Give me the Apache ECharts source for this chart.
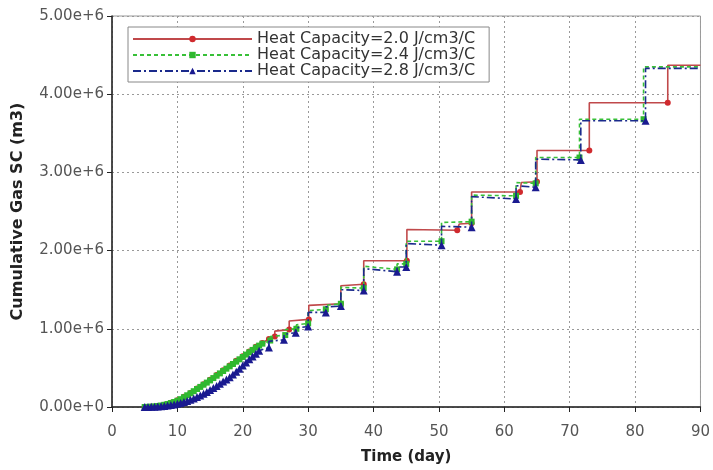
<!DOCTYPE html>
<html><head><meta charset="utf-8">
<script src="https://cdn.jsdelivr.net/npm/echarts@6/dist/echarts.min.js"></script>
<style>html,body{margin:0;padding:0;background:#fff}#c{width:713px;height:470px}</style>
</head><body><div id="c"></div>
<script>
// Series names
const seriesNames = ['Heat Capacity=2.0 J/cm3/C','Heat Capacity=2.4 J/cm3/C','Heat Capacity=2.8 J/cm3/C'];
// [time (day), cumulative gas (millions m3)]
const hc20 = [[5,0],[6,0.004],[7,0.012],[8,0.03],[9,0.055],[10,0.085],[11,0.13],[12,0.18],[13,0.235],[14,0.29],[15,0.35],[16,0.41],[17,0.47],[18,0.53],[19,0.59],[20,0.65],[21,0.71],[22,0.77],[23,0.82],[24,0.87],
  [24.9,0.90],[24.9,0.97],[27.1,0.99],[27.1,1.10],[30.1,1.12],[30.1,1.30],[35,1.32],[35,1.55],[38.5,1.57],[38.5,1.87],[45.1,1.87],[45.1,2.27],[52.8,2.26],[53.1,2.34],[55,2.35],[55,2.75],[62.4,2.75],[62.6,2.87],[65,2.88],[65,3.28],[73,3.28],[73,3.89],[85,3.89],[85,4.37],[90,4.37]];
const hc24 = [[5,0],[5.5,0.002],[6,0.004],[6.5,0.007],[7,0.012],[7.5,0.019],[8,0.028],[8.5,0.038],[9,0.05],[9.5,0.064],[10,0.08],[10.5,0.10],[11,0.125],[11.5,0.15],[12,0.175],[12.5,0.202],[13,0.23],[13.5,0.257],[14,0.285],[14.5,0.312],[15,0.34],[15.5,0.37],[16,0.40],[16.5,0.43],[17,0.46],[17.5,0.49],[18,0.52],[18.5,0.55],[19,0.58],[19.5,0.61],[20,0.64],[20.5,0.67],[21,0.70],[21.5,0.73],[22,0.76],[22.5,0.785],[23,0.81],
  [24.2,0.85],[24.2,0.90],[26.5,0.92],[26.5,0.99],[28.2,1.00],[28.2,1.05],[30,1.07],[30,1.23],[32.7,1.25],[32.7,1.30],[35,1.32],[35,1.53],[38.5,1.52],[38.5,1.80],[43.6,1.76],[43.6,1.83],[45,1.83],[45,2.12],[50.4,2.12],[50.4,2.36],[55,2.37],[55,2.71],[61.8,2.70],[61.8,2.87],[64.8,2.86],[64.8,3.19],[71.5,3.19],[71.5,3.68],[81.3,3.68],[81.3,4.35],[90,4.35]];
const hc28 = [[5,0],[5.5,0.001],[6,0.002],[6.5,0.004],[7,0.006],[7.5,0.009],[8,0.013],[8.5,0.018],[9,0.024],[9.5,0.032],[10,0.041],[10.5,0.052],[11,0.064],[11.5,0.078],[12,0.093],[12.5,0.11],[13,0.128],[13.5,0.148],[14,0.17],[14.5,0.193],[15,0.217],[15.5,0.243],[16,0.27],[16.5,0.298],[17,0.325],[17.5,0.353],[18,0.38],[18.5,0.415],[19,0.45],[19.5,0.49],[20,0.53],[20.5,0.57],[21,0.61],[21.5,0.645],[22,0.68],[22.5,0.72],
  [22.5,0.74],[24,0.76],[24,0.84],[26.3,0.86],[26.3,0.93],[28.1,0.95],[28.1,1.01],[30,1.03],[30,1.21],[32.7,1.21],[32.7,1.28],[35,1.29],[35,1.50],[38.5,1.49],[38.5,1.77],[43.6,1.73],[43.6,1.79],[45,1.79],[45,2.09],[50.4,2.07],[50.4,2.31],[55,2.30],[55,2.69],[61.8,2.66],[61.8,2.83],[64.8,2.81],[64.8,3.17],[71.7,3.16],[71.7,3.66],[81.6,3.66],[81.6,4.33],[90,4.33]];
const xTicks = {min:0, max:90, interval:10};
const yTicks = {min:0, max:5e6, interval:1e6};

function build(arr){
  return arr.map((p,i)=>{
    const item = {value:[p[0], p[1]*1e6]};
    const prev = arr[i-1];
    if (i === arr.length-1 || (prev && p[0]-prev[0] < 0.35)) item.symbol = 'none';
    return item;
  });
}
const FONT = 'DejaVu Sans, Liberation Sans, Arial';
const styles = [
  {color:'#d02a2e', line:{color:'#c0494b', width:1.6, type:'solid'}, symbol:'circle', size:6},
  {color:'#2fb82f', line:{color:'#38c038', width:1.6, type:[4,3]}, symbol:'rect', size:6},
  {color:'#1a1a90', line:{color:'#1a2a8c', width:1.6, type:[8,3,2,3]}, symbol:'triangle', size:8}
];
const datasets = [hc20, hc24, hc28];
const chart = echarts.init(document.getElementById('c'), null, {renderer:'canvas'});
chart.setOption({
  animation:false,
  backgroundColor:'#fff',
  grid:{left:112, right:9, top:16, bottom:60, show:true, borderColor:'#999', borderWidth:1},
  legend:{
    orient:'vertical', left:128, top:27, padding:[4,14,3,4],
    backgroundColor:'#fff', borderColor:'#888', borderWidth:1,
    itemWidth:119, itemHeight:8, itemGap:0,
    textStyle:{fontFamily:FONT, fontSize:16, color:'#333', lineHeight:16},
    data: seriesNames
  },
  xAxis:{
    type:'value', min:xTicks.min, max:xTicks.max, interval:xTicks.interval,
    name:'Time (day)', nameLocation:'middle', nameGap:43,
    nameTextStyle:{fontFamily:FONT, fontSize:15, fontWeight:'bold', color:'#222'},
    axisLine:{show:true, onZero:false, lineStyle:{color:'#222', width:1.5}},
    axisTick:{show:true, length:5, lineStyle:{color:'#222'}},
    axisLabel:{fontFamily:FONT, fontSize:15, color:'#555', margin:18},
    splitLine:{show:true, lineStyle:{color:'#999', type:[2,3], width:1}}
  },
  yAxis:{
    type:'value', min:yTicks.min, max:yTicks.max, interval:yTicks.interval,
    name:'Cumulative Gas SC (m3)', nameLocation:'middle', nameGap:86,
    nameTextStyle:{fontFamily:FONT, fontSize:16, fontWeight:'bold', color:'#222'},
    axisLine:{show:true, lineStyle:{color:'#222', width:1.5}},
    axisTick:{show:true, length:5, lineStyle:{color:'#222'}},
    axisLabel:{fontFamily:FONT, fontSize:15, color:'#555', margin:8,
      formatter:v=> v===0 ? '0.00e+0' : (v/1e6).toFixed(2)+'e+6'},
    splitLine:{show:true, lineStyle:{color:'#999', type:[2,3], width:1}}
  },
  series: datasets.map((d,k)=>({
    name:seriesNames[k], type:'line', data:build(d),
    showAllSymbol:true, symbol:styles[k].symbol, symbolSize:styles[k].size,
    itemStyle:{color:styles[k].color}, lineStyle:styles[k].line, z:2+k
  }))
});
</script></body></html>
